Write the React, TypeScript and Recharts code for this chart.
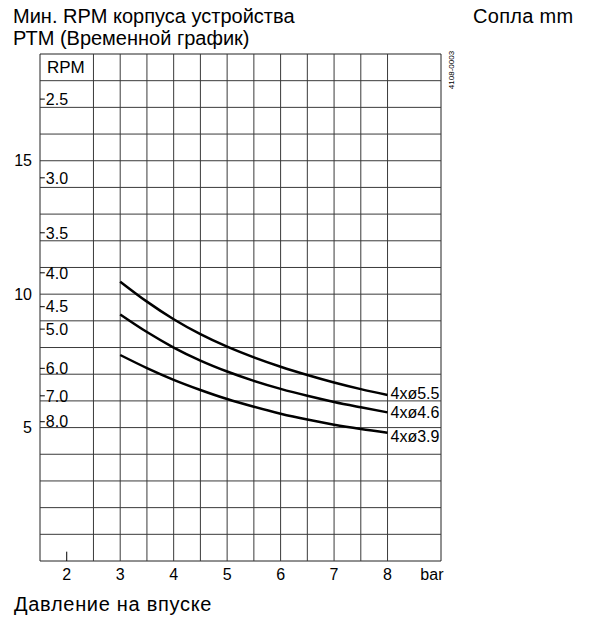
import React from 'react';
import { LineChart, Line, XAxis, YAxis, ReferenceLine, ReferenceArea } from 'recharts';

const pressure = [3, 3.5, 4, 4.5, 5, 5.5, 6, 6.5, 7, 7.5, 8];
const nozzle55 = [10.47, 9.72, 9.06, 8.5, 8.03, 7.63, 7.28, 6.97, 6.69, 6.44, 6.22];
const nozzle46 = [9.24, 8.58, 8.0, 7.51, 7.1, 6.75, 6.45, 6.19, 5.96, 5.76, 5.57];
const nozzle39 = [7.72, 7.23, 6.79, 6.41, 6.07, 5.78, 5.52, 5.3, 5.11, 4.95, 4.81];
const nozzleNames = ['4xø5.5', '4xø4.6', '4xø3.9'];

const xTickValues = [2, 3, 4, 5, 6, 7, 8, 8.83];
const xTickLabels = ['2', '3', '4', '5', '6', '7', '8', 'bar'];
const leftTicks = [5, 10, 15];
const rpmTickValues = [17.31, 14.36, 12.3, 10.8, 9.53, 8.69, 7.22, 6.19, 5.22];
const rpmTickLabels = ['2.5', '3.0', '3.5', '4.0', '4.5', '5.0', '6.0', '7.0', '8.0'];
const xGrid = [2.5, 3, 3.5, 4, 4.5, 5, 5.5, 6, 6.5, 7, 7.5, 8];
const yGrid = [1, 2, 3, 4, 5, 6, 7, 8, 9, 10, 11, 12, 13, 14, 15, 16, 17, 18];

const titleLine1 = 'Мин. RPM корпуса устройства';
const titleLine2 = 'РТМ (Временной график)';
const nozzleTitle = 'Сопла mm';
const xTitle = 'Давление на впуске';
const rpmUnit = 'RPM';
const drawingCode = '4108-0003';

const data = pressure.map((p, i) => ({ p, a: nozzle55[i], b: nozzle46[i], c: nozzle39[i] }));

const FONT = '"Liberation Sans", Arial, sans-serif';

const endLabel = (name: string, dy: number) => (props: any) => {
  const { x, y, index } = props;
  if (index !== pressure.length - 1) return null;
  return (
    <text x={x + 3} y={y + dy} dy="0.36em" fontSize={16} fontFamily={FONT} fill="#000">
      {name}
    </text>
  );
};

const rpmLabel = (text: string) => (props: any) => {
  const vb = props.viewBox || {};
  const x = (vb.x ?? 0) + (vb.width ?? 0) + 1;
  const y = (vb.y ?? 0) + (vb.height ?? 0) / 2;
  return (
    <text x={x} y={y} dy="0.36em" fontSize={16} fontFamily={FONT} fill="#000">
      {text}
    </text>
  );
};

export default function App() {
  const gridStroke = '#3a3a3a';
  return (
    <div style={{ position: 'absolute', left: 0, top: 0, width: 596, height: 623, background: '#fff', fontFamily: FONT }}>
      <div style={{ position: 'absolute', left: 13, top: 5, fontSize: 20, lineHeight: '22px', color: '#000' }}>
        {titleLine1}
        <br />
        {titleLine2}
      </div>
      <div style={{ position: 'absolute', left: 473, top: 5, fontSize: 20, lineHeight: '22px', letterSpacing: '0.3px', color: '#000' }}>{nozzleTitle}</div>
      <div style={{ position: 'absolute', left: 14, top: 593, fontSize: 20, lineHeight: '22px', letterSpacing: '0.7px', color: '#000' }}>{xTitle}</div>
      <div
        style={{
          position: 'absolute',
          left: 451,
          top: 70,
          fontSize: 8,
          lineHeight: '9px',
          transform: 'translate(-50%, -50%) rotate(-90deg)',
          whiteSpace: 'nowrap',
          color: '#000',
        }}
      >
        {drawingCode}
      </div>
      <LineChart width={596} height={623} data={data} margin={{ top: 54, right: 155, bottom: 32, left: 0 }} style={{ position: 'absolute', left: 0, top: 0 }}>
        <XAxis
          dataKey="p"
          type="number"
          domain={[1.5, 9]}
          ticks={xTickValues}
          tickFormatter={(v: number) => xTickLabels[xTickValues.indexOf(v)] ?? ''}
          axisLine={false}
          tickLine={false}
          height={30}
          interval={0}
          allowDataOverflow
          tick={{ fontSize: 16, fill: '#000', fontFamily: FONT }}
        />
        <YAxis
          type="number"
          domain={[0, 19]}
          ticks={leftTicks}
          axisLine={false}
          tickLine={false}
          width={40}
          interval={0}
          tick={{ fontSize: 16, fill: '#000', fontFamily: FONT }}
        />
        {xGrid.map((x) => (
          <ReferenceLine key={'vx' + x} x={x} stroke={gridStroke} strokeWidth={1} />
        ))}
        {yGrid.map((y) => (
          <ReferenceLine key={'hy' + y} y={y} stroke={gridStroke} strokeWidth={1} />
        ))}
        <ReferenceArea x1={1.5} x2={9} y1={0} y2={19} fill="none" stroke="#222" strokeWidth={1} />
        <ReferenceLine
          segment={[
            { x: 2, y: 0 },
            { x: 2, y: 0.35 },
          ]}
          stroke="#000"
        />
        {rpmTickValues.map((v, i) => (
          <ReferenceLine
            key={'rpm' + i}
            segment={[
              { x: 1.5, y: v },
              { x: 1.59, y: v },
            ]}
            stroke="#000"
            label={rpmLabel(rpmTickLabels[i])}
          />
        ))}
        <ReferenceArea
          x1={1.5}
          x2={1.5}
          y1={18}
          y2={19}
          fill="none"
          stroke="none"
          label={{ value: rpmUnit, position: 'right', fontSize: 17, fill: '#000', fontFamily: FONT, offset: 7 }}
        />
        <Line type="monotone" dataKey="a" stroke="#000" strokeWidth={2.5} dot={false} isAnimationActive={false} label={endLabel(nozzleNames[0], -2)} />
        <Line type="monotone" dataKey="b" stroke="#000" strokeWidth={2.5} dot={false} isAnimationActive={false} label={endLabel(nozzleNames[1], 0)} />
        <Line type="monotone" dataKey="c" stroke="#000" strokeWidth={2.5} dot={false} isAnimationActive={false} label={endLabel(nozzleNames[2], 4)} />
      </LineChart>
    </div>
  );
}
